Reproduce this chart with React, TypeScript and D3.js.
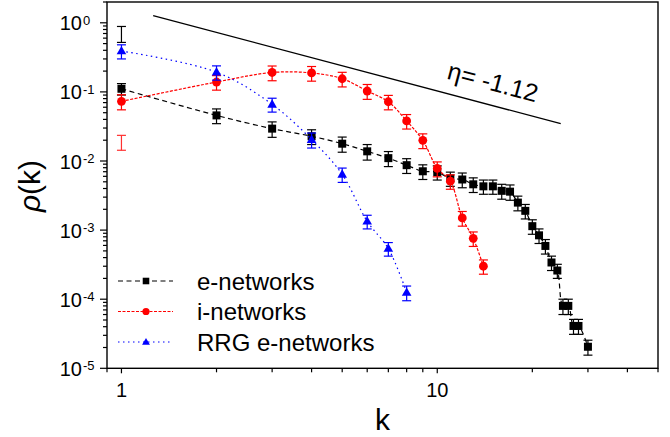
import React, { useEffect, useRef } from "react";
import * as d3 from "d3";

// e-networks (black squares)
const kE = [1, 2, 3, 4, 5, 6, 7, 8, 9, 10, 11, 12, 13, 14, 15, 16, 17, 18, 19, 20, 21, 22, 23, 24, 25, 26, 27, 28, 30];
const valE = [0.111, 0.0457, 0.0294, 0.0228, 0.0178, 0.0138, 0.011, 0.0087, 0.0071, 0.0069, 0.0056, 0.0054, 0.0046, 0.0043, 0.0043, 0.0037, 0.0036, 0.0025, 0.0019, 0.00114, 0.00084, 0.00059, 0.00034, 0.00026, 0.00008, 0.00008, 0.000041, 0.000041, 0.0000205];
const errE = [0.021, 0.011, 0.0074, 0.0055, 0.0044, 0.0035, 0.0027, 0.0021, 0.0017, 0.0016, 0.0013, 0.0013, 0.0011, 0.001, 0.001, 0.0009, 0.0009, 0.0006, 0.00045, 0.00027, 0.0002, 0.00014, 0.00008, 0.00006, 0.00002, 0.00002, 0.00001, 0.00001, 0.000005];

// i-networks (red circles)
const kI = [1, 2, 3, 4, 5, 6, 7, 8, 9, 10, 11, 12, 13, 14];
const valI = [0.073, 0.139, 0.191, 0.188, 0.155, 0.103, 0.072, 0.038, 0.0199, 0.0078, 0.0051, 0.0015, 0.00076, 0.0003];
const errI = [0.018, 0.033, 0.046, 0.045, 0.037, 0.025, 0.017, 0.009, 0.0048, 0.0019, 0.0012, 0.00036, 0.00018, 0.00007];

// RRG e-networks (blue triangles)
const kR = [1, 2, 3, 4, 5, 6, 7, 8];
const valR = [0.39, 0.193, 0.066, 0.0204, 0.0064, 0.00134, 0.00054, 0.000125];
const errR = [0.09, 0.045, 0.015, 0.005, 0.0015, 0.0003, 0.00012, 0.00003];

// stray error bars at k = 1
const strayK = [1, 1];
const strayLo = [0.52, 0.0143];
const strayHi = [0.885, 0.0235];
const strayColor = ["#000000", "#ff3030"];

// reference power-law line
const etaK = [1.26, 24.6];
const etaV = [1.27, 0.0347];
const etaLabel = "η= -1.12";

const legendNames = ["e-networks", "i-networks", "RRG e-networks"];
const yDecades = [-5, -4, -3, -2, -1, 0];
const xMajor = [1, 10];
const xMinor = [0.9, 2, 3, 4, 5, 6, 7, 8, 9, 20, 30, 40, 50];

function App() {
  const svgRef = useRef(null);
  const W = 670,
    H = 437;
  const margin = { left: 107, right: 12, top: 2, bottom: 68.7 };
  const font = "'Liberation Sans', Arial, sans-serif";

  useEffect(() => {
    document.body.style.margin = "0";
    const svg = d3.select(svgRef.current);
    svg.selectAll("*").remove();

    const x = d3.scaleLog().domain([0.9, 50]).range([margin.left, W - margin.right]);
    const y = d3.scaleLog().domain([1e-5, 2]).range([H - margin.bottom, margin.top]);
    const x0 = margin.left,
      x1 = W - margin.right,
      y0 = H - margin.bottom,
      y1 = margin.top;

    const series = [
      { k: kE, v: valE, e: errE, color: "#000000", dash: "5,3.5", shape: "square" },
      { k: kI, v: valI, e: errI, color: "#ff0000", dash: "3,1.5", shape: "circle" },
      { k: kR, v: valR, e: errR, color: "#0000ff", dash: "1.5,3.5", shape: "triangle" },
    ];

    const line = d3
      .line()
      .x((d) => x(d[0]))
      .y((d) => y(d[1]))
      .curve(d3.curveCatmullRom.alpha(0.5));

    const drawMarker = (g, shape, cx, cy, color, scale) => {
      if (shape === "square") {
        const s = 8 * scale;
        g.append("rect").attr("x", cx - s / 2).attr("y", cy - s / 2).attr("width", s).attr("height", s).attr("fill", color);
      } else if (shape === "circle") {
        g.append("circle").attr("cx", cx).attr("cy", cy).attr("r", 4.4 * scale).attr("fill", color);
      } else {
        g.append("path")
          .attr("d", d3.symbol().type(d3.symbolTriangle).size(40 * scale * scale)())
          .attr("transform", "translate(" + cx + "," + (cy + 0.5) + ")")
          .attr("fill", color);
      }
    };

    const plot = svg.append("g");

    // stray bars
    strayK.forEach((kk, i) => {
      const g = plot.append("g").attr("stroke", strayColor[i]).attr("stroke-width", 1.2);
      const px = x(kk);
      g.append("line").attr("x1", px).attr("x2", px).attr("y1", y(strayHi[i])).attr("y2", y(strayLo[i]));
      g.append("line").attr("x1", px - 4.5).attr("x2", px + 4.5).attr("y1", y(strayHi[i])).attr("y2", y(strayHi[i]));
      g.append("line").attr("x1", px - 4.5).attr("x2", px + 4.5).attr("y1", y(strayLo[i])).attr("y2", y(strayLo[i]));
    });

    series.forEach((s) => {
      const pts = s.k.map((kk, i) => [kk, s.v[i]]);
      plot
        .append("path")
        .attr("d", line(pts))
        .attr("fill", "none")
        .attr("stroke", s.color)
        .attr("stroke-width", 1.2)
        .attr("stroke-dasharray", s.dash);
      const eg = plot.append("g").attr("stroke", s.color).attr("stroke-width", 1.2);
      pts.forEach((p, i) => {
        const px = x(p[0]);
        const hi = y(p[1] + s.e[i]);
        const lo = y(Math.max(p[1] - s.e[i], 1e-9));
        eg.append("line").attr("x1", px).attr("x2", px).attr("y1", hi).attr("y2", lo);
        eg.append("line").attr("x1", px - 4.5).attr("x2", px + 4.5).attr("y1", hi).attr("y2", hi);
        eg.append("line").attr("x1", px - 4.5).attr("x2", px + 4.5).attr("y1", lo).attr("y2", lo);
      });
      const mg = plot.append("g");
      pts.forEach((p) => drawMarker(mg, s.shape, x(p[0]), y(p[1]), s.color, 1));
    });

    // eta line + label
    plot
      .append("line")
      .attr("x1", x(etaK[0]))
      .attr("y1", y(etaV[0]))
      .attr("x2", x(etaK[1]))
      .attr("y2", y(etaV[1]))
      .attr("stroke", "#000")
      .attr("stroke-width", 1.3);
    const ang = (Math.atan2(y(etaV[1]) - y(etaV[0]), x(etaK[1]) - x(etaK[0])) * 180) / Math.PI;
    svg
      .append("text")
      .attr("transform", "translate(493,82) rotate(" + ang + ")")
      .attr("text-anchor", "middle")
      .attr("dy", "0.35em")
      .attr("font-family", font)
      .attr("font-size", 25)
      .text(etaLabel);

    // frame
    svg
      .append("rect")
      .attr("x", x0)
      .attr("y", y1)
      .attr("width", x1 - x0)
      .attr("height", y0 - y1)
      .attr("fill", "none")
      .attr("stroke", "#000")
      .attr("stroke-width", 1.4);

    // y ticks
    const ax = svg.append("g").attr("stroke", "#000").attr("stroke-width", 1.2);
    yDecades.forEach((d) => {
      const base = Math.pow(10, d);
      ax.append("line").attr("x1", x0 - 7).attr("x2", x0).attr("y1", y(base)).attr("y2", y(base));
      for (let m = 2; m <= 9; m++) {
        const v = m * base;
        if (v > 2.0001) continue;
        ax.append("line").attr("x1", x0 - 4).attr("x2", x0).attr("y1", y(v)).attr("y2", y(v));
      }
      svg
        .append("text")
        .attr("font-family", font)
        .attr("x", 82)
        .attr("y", y(base) + 7.5)
        .attr("text-anchor", "end")
        .attr("font-size", 20)
        .text("10");
      svg
        .append("text")
        .attr("font-family", font)
        .attr("x", 83)
        .attr("y", y(base) + 1.8)
        .attr("font-size", 13)
        .text(String(d));
    });

    // x ticks
    xMajor.forEach((v) => {
      ax.append("line").attr("x1", x(v)).attr("x2", x(v)).attr("y1", y0).attr("y2", y0 + 5);
      svg
        .append("text")
        .attr("x", x(v))
        .attr("y", 397)
        .attr("text-anchor", "middle")
        .attr("font-family", font)
        .attr("font-size", 20)
        .text(String(v));
    });
    xMinor.forEach((v) => {
      ax.append("line").attr("x1", x(v)).attr("x2", x(v)).attr("y1", y0).attr("y2", y0 + 4);
    });

    // axis titles
    svg
      .append("text")
      .attr("x", (x0 + x1) / 2)
      .attr("y", 430)
      .attr("text-anchor", "middle")
      .attr("font-family", font)
      .attr("font-size", 30)
      .text("k");
    const yl = svg
      .append("text")
      .attr("transform", "translate(40,186) rotate(-90)")
      .attr("text-anchor", "middle")
      .attr("font-family", font)
      .attr("font-size", 30);
    yl.append("tspan").attr("font-style", "italic").text("ρ");
    yl.append("tspan").text("(k)");

    // legend
    const lg = svg.append("g");
    series.forEach((s, i) => {
      const cy = 281 + i * 30.5;
      lg.append("line")
        .attr("x1", 118)
        .attr("x2", 173)
        .attr("y1", cy)
        .attr("y2", cy)
        .attr("stroke", s.color)
        .attr("stroke-width", 1.2)
        .attr("stroke-dasharray", s.dash);
      drawMarker(lg, s.shape, 146, cy, s.color, 0.82);
      lg.append("text")
        .attr("x", 197)
        .attr("y", cy + 8.5)
        .attr("font-family", font)
        .attr("font-size", 24)
        .text(legendNames[i]);
    });
  }, []);

  return (
    <div>
      <svg ref={svgRef} width={W} height={H} style={{ display: "block", background: "#fff" }}></svg>
    </div>
  );
}

export default App;
